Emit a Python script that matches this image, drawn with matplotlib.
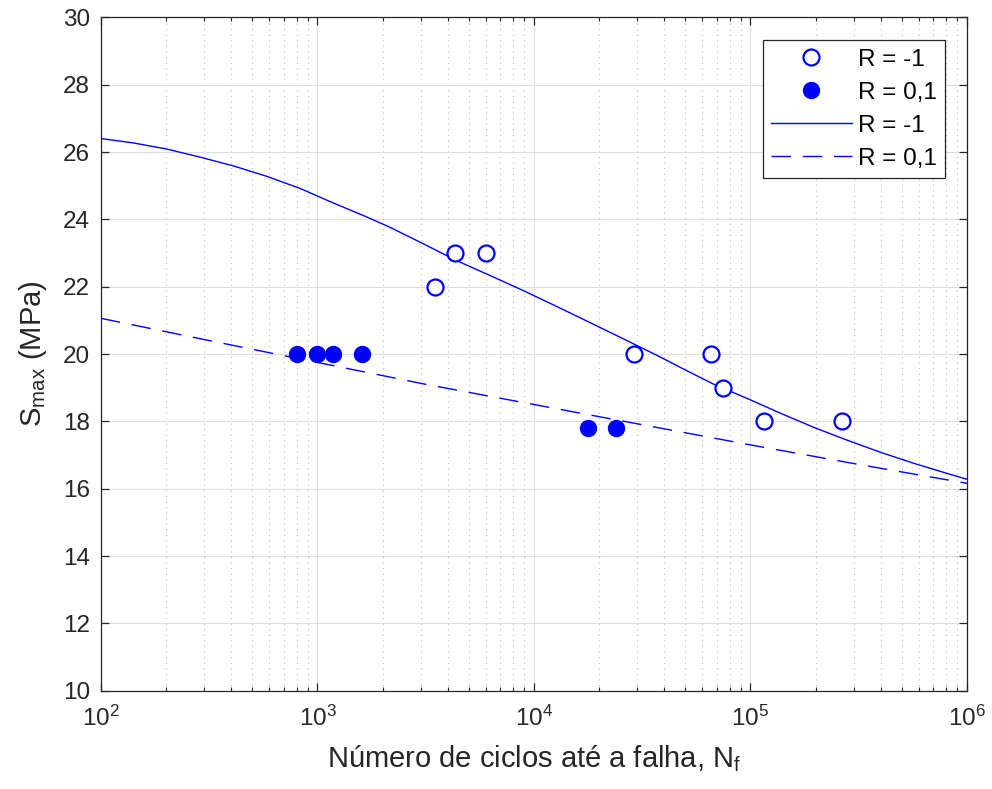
import numpy as np
import matplotlib
matplotlib.use("Agg")
import matplotlib.pyplot as plt
from matplotlib.ticker import LogLocator, FixedLocator, NullFormatter

plt.rcParams["font.family"] = ["Liberation Sans", "DejaVu Sans"]
plt.rcParams["mathtext.fontset"] = "custom"
plt.rcParams["mathtext.rm"] = "Liberation Sans"
plt.rcParams["mathtext.it"] = "Liberation Sans:italic"

# dados experimentais
N_r1 = [3500, 4300, 6000, 29000, 66000, 75000, 115000, 265000]
S_r1 = [22, 23, 23, 20, 20, 19, 18, 18]
N_r01 = [800, 1000, 1180, 1600, 17800, 24000]
S_r01 = [20, 20, 20, 20, 17.8, 17.8]

# curvas ajustadas
N_fit1 = [100, 141, 201, 286, 408, 582, 830, 1180, 1690, 2170, 3090, 4410,
          6280, 8950, 12760, 18200, 25900, 37000, 47500, 67800, 96600,
          137700, 196300, 279900, 399000, 570200, 812800, 1000000]
S_fit1 = [26.40, 26.27, 26.09, 25.85, 25.59, 25.28, 24.92, 24.49, 24.07, 23.76,
          23.27, 22.77, 22.33, 21.88, 21.41, 20.93, 20.45, 19.96, 19.60, 19.10,
          18.68, 18.24, 17.82, 17.44, 17.08, 16.75, 16.45, 16.28]
N_fit01 = [100, 316, 1000, 3162, 10000, 31623, 100000, 316228, 1000000]
S_fit01 = [21.06, 20.4, 19.75, 19.1, 18.5, 17.9, 17.3, 16.72, 16.16]

azul = (0, 0, 1)
cinza = (0.15, 0.15, 0.15)

fig = plt.figure(figsize=(9.92, 7.89), dpi=100)
ax = fig.add_axes([0.1018, 0.1246, 0.873, 0.8534])

ax.plot(N_r1, S_r1, 'o', ms=11.5, mfc='white', mec=azul, mew=1.6, ls='none', label='R = -1', zorder=4)
ax.plot(N_r01, S_r01, 'o', ms=11.5, mfc=azul, mec=azul, mew=1.0, ls='none', label='R = 0,1', zorder=4)
ax.plot(N_fit1, S_fit1, '-', color=azul, lw=1.0, label='R = -1', zorder=3)
ax.plot(N_fit01, S_fit01, color=azul, lw=1.0, dashes=(14, 8.5), label='R = 0,1', zorder=3)

ax.set_xscale('log')
ax.set_xlim(1e2, 1e6)
ax.set_ylim(10, 30)
ax.yaxis.set_major_locator(FixedLocator(np.arange(10, 31, 2)))
ax.xaxis.set_major_locator(LogLocator(base=10, numticks=10))
ax.xaxis.set_minor_locator(LogLocator(base=10, subs=np.arange(2, 10), numticks=50))
ax.xaxis.set_minor_formatter(NullFormatter())

ax.grid(True, which='major', color=(0.87, 0.87, 0.87), lw=0.8, ls='-')
ax.grid(True, which='minor', axis='x', color=(0.72, 0.72, 0.72), lw=0.8, ls=(0, (1, 4)))
ax.set_axisbelow(True)

for s in ax.spines.values():
    s.set_color(cinza)
    s.set_linewidth(0.9)
ax.tick_params(which='both', direction='in', top=True, right=True, colors=cinza,
               labelsize=17.5, labelcolor=cinza)
ax.tick_params(which='major', length=6, width=0.9)
ax.tick_params(axis='y', which='major', pad=8)
ax.tick_params(axis='x', which='major', pad=11)
ax.tick_params(which='minor', length=3, width=0.8)

ax.set_xlabel('Número de ciclos até a falha, N$_\\mathrm{f}$', fontsize=21, color=cinza, labelpad=9)
ax.set_ylabel('S$_\\mathrm{max}$ (MPa)', fontsize=21, color=cinza, labelpad=10)

leg = ax.legend(loc='upper right', fontsize=17.5, handlelength=3.3, handletextpad=0.25,
                borderpad=0.35, labelspacing=0.45, borderaxespad=0, fancybox=False,
                framealpha=1, edgecolor=cinza, bbox_to_anchor=(0.9746, 0.9658))
leg.get_frame().set_linewidth(0.9)

fig.savefig('out.png', dpi=100)
